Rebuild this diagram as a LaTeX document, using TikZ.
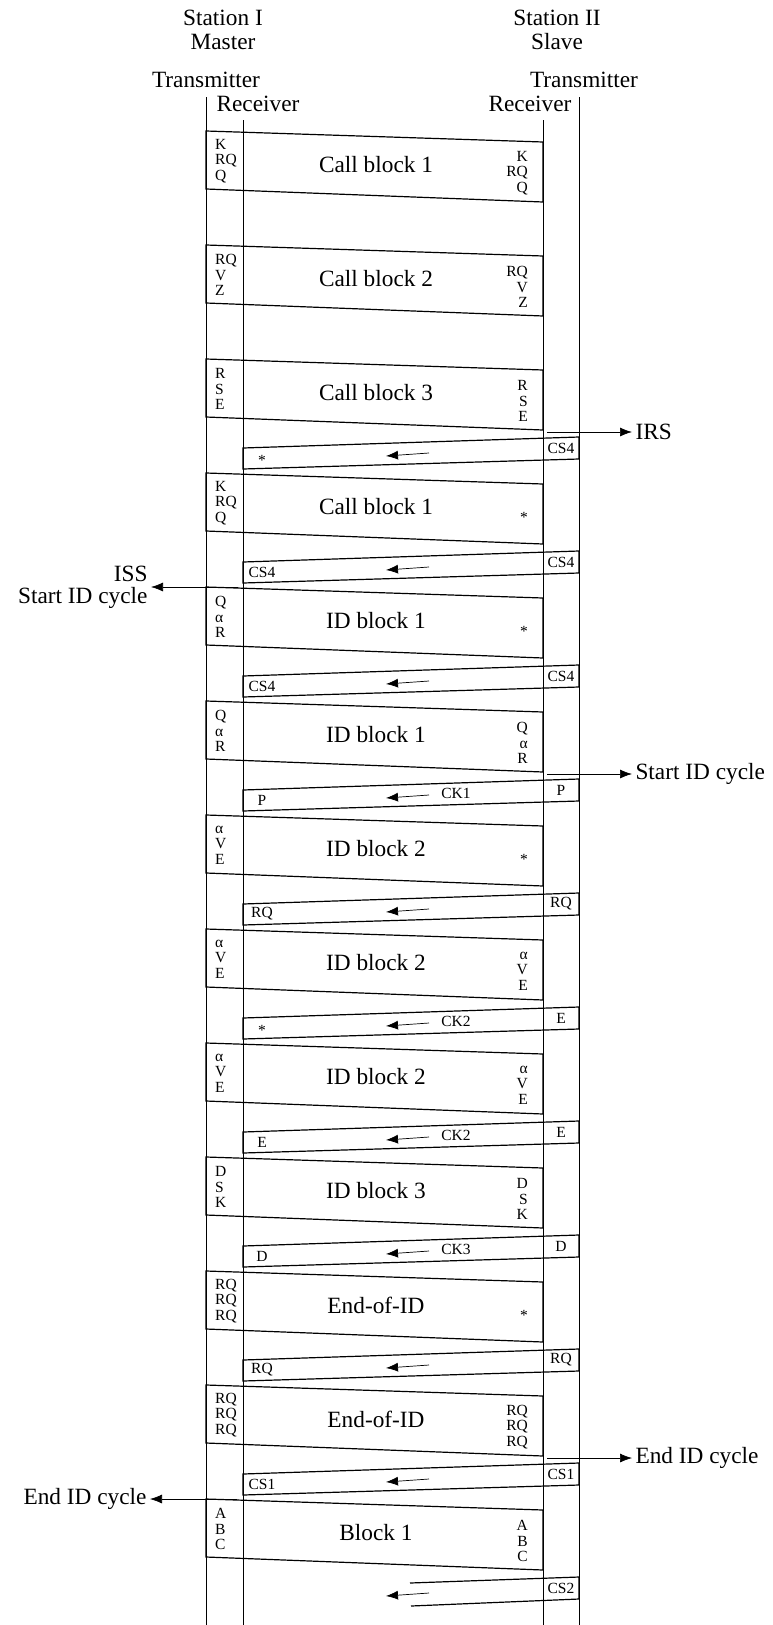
\documentclass[tikz,border=0pt]{standalone}
\usepackage{fontspec}
\setmainfont{Liberation Serif}
\usetikzlibrary{arrows.meta}
\tikzset{font=\fontsize{23.3}{24}\selectfont}
\tikzstyle{wire}=[line width=0.7pt]
\tikzstyle{blk}=[line width=1.2pt]
\tikzstyle{lbl}=[font=\fontsize{15.5}{15.5}\selectfont,inner sep=0pt]
\newcommand{\lowstar}{\raisebox{-4pt}[7pt][0pt]{*}}
% block sent by station I: name, top y, left text, title, right text
\newcommand{\callblk}[5]{%
  \draw[blk] (206,#2) -- (543,{#2+11}) -- (543,{#2+71}) -- (206,{#2+58}) -- cycle;
  \node[lbl,anchor=west,align=left] (#1l) at (215,{#2+30}) {#3};
  \node (#1) at (376,{#2+34}) {#4};
  \node[lbl,anchor=east,align=right] (#1r) at (528,{#2+42}) {#5};
}
% answer sent by station II: name, top y, right text, left text, middle text
\newcommand{\replyblk}[5]{%
  \draw[blk] (579,#2) -- (579,{#2+22}) -- (243,{#2+32}) -- (243,{#2+11}) -- cycle;
  \node[lbl] (#1r) at (561,{#2+11}) {#3};
  \node[lbl] (#1l) at (262,{#2+21}) {#4};
  \if\relax\detokenize{#5}\relax\else\node[lbl] (#1c) at (456,{#2+14}) {#5};\fi
  \coordinate (#1a) at (429,{#2+16});
  \coordinate (#1b) at (386,{#2+19});
  \draw[->,wire] (#1a) -- (#1b);
}

\begin{document}
\begin{tikzpicture}[x=1pt,y=-1pt,>={Latex[length=12pt,width=9pt]}]
\useasboundingbox (0,0) rectangle (772,1625);
% stations
\node (SI) at (223,30) [align=center] {Station I\\Master};
\node (SII) at (557,30) [align=center] {Station II\\Slave};
\node (TI) at (206,80) {Transmitter};
\node (RI) at (258,104) {Receiver};
\node (RII) at (530,104) {Receiver};
\node (TII) at (584,80) {Transmitter};
% time lines
\coordinate (ti) at (206,97);  \coordinate (tie) at (206,1625);
\coordinate (ri) at (243,120); \coordinate (rie) at (243,1625);
\coordinate (rii) at (543,120); \coordinate (riie) at (543,1625);
\coordinate (tii) at (579,97); \coordinate (tiie) at (579,1625);
\draw[wire] (ti) -- (tie);
\draw[wire] (ri) -- (rie);
\draw[wire] (rii) -- (riie);
\draw[wire] (tii) -- (tiie);
% blocks
\callblk{c0}{131}{K\\RQ\\Q}{Call block 1}{K\\RQ\\Q}
\callblk{c1}{245}{RQ\\V\\Z}{Call block 2}{RQ\\V\\Z}
\callblk{c2}{359}{R\\S\\E}{Call block 3}{R\\S\\E}
\replyblk{r2}{437}{CS4}{\lowstar}{}
\callblk{c3}{473}{K\\RQ\\Q}{Call block 1}{\lowstar}
\replyblk{r3}{551}{CS4}{CS4}{}
\callblk{c4}{587}{Q\\α\\R}{ID block 1}{\lowstar}
\replyblk{r4}{665}{CS4}{CS4}{}
\callblk{c5}{701}{Q\\α\\R}{ID block 1}{Q\\α\\R}
\replyblk{r5}{779}{P}{P}{CK1}
\callblk{c6}{815}{α\\V\\E}{ID block 2}{\lowstar}
\replyblk{r6}{893}{RQ}{RQ}{}
\callblk{c7}{929}{α\\V\\E}{ID block 2}{α\\V\\E}
\replyblk{r7}{1007}{E}{\lowstar}{CK2}
\callblk{c8}{1043}{α\\V\\E}{ID block 2}{α\\V\\E}
\replyblk{r8}{1121}{E}{E}{CK2}
\callblk{c9}{1157}{D\\S\\K}{ID block 3}{D\\S\\K}
\replyblk{r9}{1235}{D}{D}{CK3}
\callblk{c10}{1271}{RQ\\RQ\\RQ}{End-of-ID}{\lowstar}
\replyblk{r10}{1349}{RQ}{RQ}{}
\callblk{c11}{1385}{RQ\\RQ\\RQ}{End-of-ID}{RQ\\RQ\\RQ}
\replyblk{r11}{1463}{CS1}{CS1}{}
\callblk{c12}{1499}{A\\B\\C}{Block 1}{A\\B\\C}
% last answer, cut off
\coordinate (z1) at (410,1583); \coordinate (z2) at (579,1577);
\coordinate (z3) at (579,1599); \coordinate (z4) at (411,1606);
\draw[blk] (z1) -- (z2) -- (z3) -- (z4);
\node[lbl] (r12r) at (561,1588) {CS2};
\coordinate (r12a) at (429,1593); \coordinate (r12b) at (386,1596);
\draw[->,wire] (r12a) -- (r12b);
% events
\coordinate (irs) at (547,432);
\node (IRS) at (632,432) [anchor=west] {IRS};
\coordinate (sidr) at (547,774);
\node (SIDR) at (632,774) [anchor=west] {Start ID cycle};
\coordinate (eidr) at (547,1458);
\node (EIDR) at (632,1458) [anchor=west] {End ID cycle};
\coordinate (iss) at (238,587);
\node (ISS) at (151,587) [anchor=east,align=right,font=\fontsize{23.3}{22}\selectfont] {ISS\\Start ID cycle};
\coordinate (eidl) at (237,1499);
\node (EIDL) at (150,1499) [anchor=east] {End ID cycle};
\path[->,wire]
(irs) edge (IRS)
(sidr) edge (SIDR)
(eidr) edge (EIDR)
(iss) edge (ISS)
(eidl) edge (EIDL);
\end{tikzpicture}
\end{document}
